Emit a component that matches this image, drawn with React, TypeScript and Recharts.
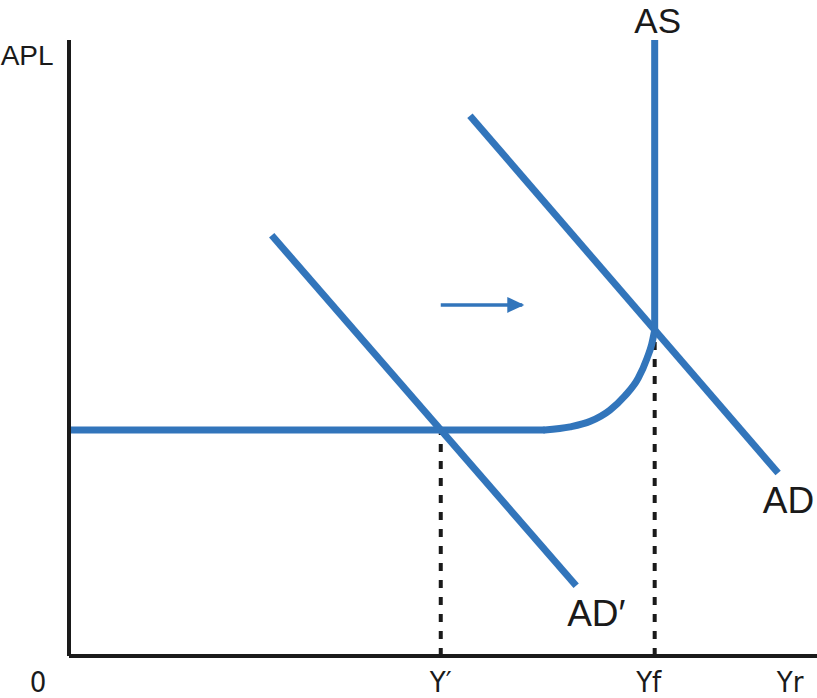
import { ComposedChart, Line, ReferenceDot, ReferenceLine, XAxis, YAxis } from 'recharts';

// Aggregate supply: flat stretch, bend, then vertical at full employment
const asFlat = [
  { x: 0, y: 36.7 },
  { x: 63.6, y: 36.7 },
];
const asBend = [
  { x: 63.6, y: 36.7 },
  { x: 67.0, y: 37.2 },
  { x: 69.7, y: 38.1 },
  { x: 72.3, y: 39.9 },
  { x: 74.3, y: 42.2 },
  { x: 76.1, y: 45.1 },
  { x: 77.3, y: 48.4 },
  { x: 77.9, y: 50.6 },
  { x: 78.3, y: 52.9 },
];
const asVertical = [
  { x: 78.3, y: 52.9 },
  { x: 78.3, y: 100 },
];
const adCurve = [
  { x: 53.6, y: 87.7 },
  { x: 94.8, y: 29.7 },
];
const adPrimeCurve = [
  { x: 27.1, y: 68.3 },
  { x: 67.8, y: 11.4 },
];
const shiftArrow = [
  { x: 49.7, y: 57.0 },
  { x: 60.6, y: 57.0 },
];

const yPrime = 49.7;
const yFull = 78.3;
const yPrimeLevel = 36.7;
const yFullLevel = 52.9;

const tickValues = [0, yPrime, yFull, 96.4];
const tickLabels = ['0', 'Y\u2032', 'Yf', 'Yr'];
const tickShift = [-31, 0, -6, 0];

const BLUE = '#3275bb';
const INK = '#1a1a1a';
const FONT = '"Liberation Sans", Arial, sans-serif';

function AxisTick({ x, y, payload }: any) {
  const i = tickValues.indexOf(payload.value);
  return (
    <text
      x={x + (tickShift[i] ?? 0)}
      y={y + 28}
      textAnchor="middle"
      fontFamily='"DejaVu Sans Condensed", "Liberation Sans Narrow", sans-serif'
      fontSize={29}
      fill={INK}
    >
      {tickLabels[i] ?? ''}
    </text>
  );
}

function ArrowHead({ cx, cy, index }: any) {
  if (index !== shiftArrow.length - 1) return null;
  return <path d={`M${cx - 15},${cy - 8} L${cx + 2},${cy} L${cx - 15},${cy + 8} Z`} fill={BLUE} />;
}

function CurveLabel({ viewBox, value, size }: any) {
  const { x, y } = viewBox;
  return (
    <text x={x} y={y} textAnchor="middle" dominantBaseline="central" fontFamily={FONT} fontSize={size} fill={INK}>
      {value}
    </text>
  );
}

export default function App() {
  return (
    <div style={{ position: 'absolute', left: 0, top: 0, background: '#fff' }}>
      <ComposedChart width={817} height={698} margin={{ top: 40, right: 0, bottom: 0, left: 0 }}>
        <XAxis
          type="number"
          dataKey="x"
          domain={[0, 100]}
          ticks={tickValues}
          tick={<AxisTick />}
          tickLine={false}
          interval={0}
          height={42}
          axisLine={{ stroke: INK, strokeWidth: 4 }}
          allowDataOverflow
        />
        <YAxis
          type="number"
          dataKey="y"
          domain={[0, 100]}
          width={69}
          tick={false}
          tickLine={false}
          axisLine={{ stroke: INK, strokeWidth: 4 }}
          allowDataOverflow
        />
        <ReferenceLine
          segment={[{ x: yPrime, y: 0 }, { x: yPrime, y: yPrimeLevel }]}
          stroke={INK}
          strokeWidth={4}
          strokeDasharray="8 9"
        />
        <ReferenceLine
          segment={[{ x: yFull, y: 0 }, { x: yFull, y: yFullLevel }]}
          stroke={INK}
          strokeWidth={4}
          strokeDasharray="8 9"
        />
        <Line data={adPrimeCurve} dataKey="y" stroke={BLUE} strokeWidth={7} dot={false} isAnimationActive={false} />
        <Line data={adCurve} dataKey="y" stroke={BLUE} strokeWidth={7} dot={false} isAnimationActive={false} />
        <Line data={asFlat} dataKey="y" stroke={BLUE} strokeWidth={7} dot={false} isAnimationActive={false} />
        <Line
          data={asBend}
          dataKey="y"
          type="monotone"
          stroke={BLUE}
          strokeWidth={7}
          strokeLinecap="round"
          dot={false}
          isAnimationActive={false}
        />
        <Line data={asVertical} dataKey="y" stroke={BLUE} strokeWidth={7} dot={false} isAnimationActive={false} />
        <Line
          data={shiftArrow}
          dataKey="y"
          stroke={BLUE}
          strokeWidth={3.5}
          dot={<ArrowHead />}
          activeDot={false}
          isAnimationActive={false}
        />
        <ReferenceDot x={78.7} y={103.2} r={0} ifOverflow="visible" label={<CurveLabel value="AS" size={35} />} />
        <ReferenceDot x={96.2} y={25.3} r={0} ifOverflow="visible" label={<CurveLabel value="AD" size={37} />} />
        <ReferenceDot x={70.5} y={6.9} r={0} ifOverflow="visible" label={<CurveLabel value={'AD\u2032'} size={37} />} />
        <ReferenceDot x={-5.6} y={97.5} r={0} ifOverflow="visible" label={<CurveLabel value="APL" size={28} />} />
      </ComposedChart>
    </div>
  );
}
